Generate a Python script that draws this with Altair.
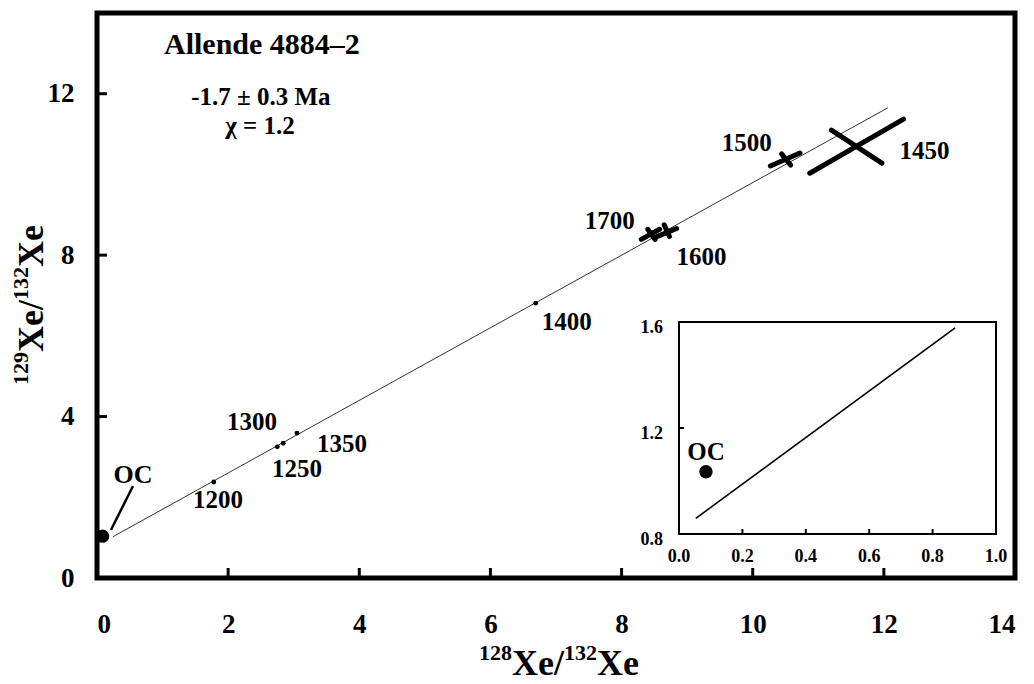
import altair as alt
import pandas as pd

# ---------------- data ----------------
# small single-step points (temperature steps) in the main panel
pt_step = ["1200", "1300", "1250", "1350", "1400"]
pt_x = [1.78, 2.75, 2.84, 3.05, 6.69]
pt_y = [2.38, 3.25, 3.34, 3.59, 6.81]

# ordinary chondrite (OC) trapped composition
oc_x = [0.085]
oc_y = [1.035]

# error crosses: two arms per step (x1,y1) -> (x2,y2)
cross_step = ["1700", "1700", "1600", "1600", "1500", "1500", "1450", "1450"]
cross_x1 = [8.30, 8.40, 8.54, 8.65, 10.27, 10.44, 10.87, 11.20]
cross_y1 = [8.39, 8.64, 8.46, 8.75, 10.21, 10.51, 10.03, 11.10]
cross_x2 = [8.58, 8.51, 8.84, 8.73, 10.72, 10.58, 12.30, 11.97]
cross_y2 = [8.64, 8.39, 8.66, 8.46, 10.53, 10.23, 11.37, 10.28]

# isochron line (main panel)
fit_x = [0.24, 12.06]
fit_y = [1.02, 11.65]

# step labels
lab_text = ["1200", "1300", "1250", "1350", "1400", "1700", "1600", "1500", "1450"]
lab_x = [1.845, 2.363, 3.049, 3.735, 7.165, 7.82, 9.22, 9.91, 12.62]
lab_y = [1.93, 3.87, 2.70, 3.32, 6.34, 8.85, 7.95, 10.78, 10.58]

# OC label and leader line
oc_lab_x = [0.549]
oc_lab_y = [2.55]
leader_x = [0.213, 0.549]
leader_y = [1.19, 2.28]

# annotation block
ann_text = ["Allende 4884\u20132", "-1.7 \u00b1 0.3 Ma", "\u03c7 = 1.2"]
ann_x = [2.515, 2.50, 2.485]
ann_y = [13.2, 11.92, 11.2]
ann_size = [30, 25, 25]

# main axes
x_ticks = [0, 2, 4, 6, 8, 10, 12, 14]
y_ticks = [0, 4, 8, 12]
x_inner_ticks = [2, 4, 6, 8, 10, 12]
y_inner_ticks = [4, 8, 12]

# inset
in_fit_x = [0.053, 0.871]
in_fit_y = [0.859, 1.578]
in_oc_x = [0.085]
in_oc_y = [1.035]
in_oc_lab_y = [1.109]
in_x_ticks = [0.0, 0.2, 0.4, 0.6, 0.8, 1.0]
in_x_labels = ["0.0", "0.2", "0.4", "0.6", "0.8", "1.0"]
in_y_ticks = [0.8, 1.2, 1.6]
in_y_labels = ["0.8", "1.2", "1.6"]
in_x_inner = [0.2, 0.4, 0.6, 0.8]
in_y_inner = [1.2]

# axis titles (superscript pieces)
xt_text = ["128", "Xe/", "132", "Xe"]
yt_text = ["129", "Xe/", "132", "Xe"]
is_sup = [True, False, True, False]

# ---------------- layout ----------------
W, H = 918, 565
PAD = {"left": 97, "top": 13, "right": 1034 - 97 - 918, "bottom": 684 - 13 - 565}
FONT = "Liberation Serif"
SUP, MAIN = 22, 36
IN_L, IN_R, IN_T, IN_B = 582, 899, 309, 521

xs = alt.Scale(domain=[0, 14], nice=False, zero=False)
ys = alt.Scale(domain=[0, 14], nice=False, zero=False)
xaxis = alt.Axis(values=x_ticks, grid=False, domain=False, ticks=False, tickSize=0,
                 labelFont=FONT, labelFontWeight="bold", labelFontSize=27,
                 labelPadding=33, title=None, labelColor="black", format="d")
yaxis = alt.Axis(values=y_ticks, grid=False, domain=False, ticks=False, tickSize=0,
                 labelFont=FONT, labelFontWeight="bold", labelFontSize=27,
                 labelPadding=23, title=None, labelColor="black", format="d")


def X(f):
    return alt.X(f, type="quantitative", scale=xs, axis=xaxis)


def Y(f):
    return alt.Y(f, type="quantitative", scale=ys, axis=yaxis)


fit_df = pd.DataFrame({"x": fit_x, "y": fit_y})
fit = alt.Chart(fit_df).mark_line(color="#333333", strokeWidth=1).encode(x=X("x"), y=Y("y"))

pts_df = pd.DataFrame({"x": pt_x, "y": pt_y, "step": pt_step})
pts = alt.Chart(pts_df).mark_point(filled=True, color="black", size=24, opacity=1).encode(x=X("x"), y=Y("y"))

oc_df = pd.DataFrame({"x": oc_x, "y": oc_y})
oc = alt.Chart(oc_df).mark_point(filled=True, color="black", size=175, opacity=1).encode(x=X("x"), y=Y("y"))

cr_df = pd.DataFrame({"step": cross_step, "x1": cross_x1, "y1": cross_y1, "x2": cross_x2, "y2": cross_y2})
crosses = alt.Chart(cr_df).mark_rule(color="black", strokeWidth=5, strokeCap="round").encode(
    x=X("x1"), y=Y("y1"), x2="x2", y2="y2")

lead_df = pd.DataFrame({"x": leader_x, "y": leader_y})
leader = alt.Chart(lead_df).mark_line(color="black", strokeWidth=2.5).encode(x=X("x"), y=Y("y"))

lab_df = pd.DataFrame({"t": lab_text, "x": lab_x, "y": lab_y})
labs = alt.Chart(lab_df).mark_text(font=FONT, fontWeight="bold", fontSize=25, color="black",
                                   align="center", baseline="middle").encode(x=X("x"), y=Y("y"), text="t")

ocl_df = pd.DataFrame({"t": ["OC"], "x": oc_lab_x, "y": oc_lab_y})
ocl = alt.Chart(ocl_df).mark_text(font=FONT, fontWeight="bold", fontSize=26, color="black",
                                  align="center", baseline="middle").encode(x=X("x"), y=Y("y"), text="t")

ann_df = pd.DataFrame({"t": ann_text, "x": ann_x, "y": ann_y, "s": ann_size})
ann = alt.Chart(ann_df).mark_text(font=FONT, fontWeight="bold", color="black",
                                  align="center", baseline="middle").encode(
    x=X("x"), y=Y("y"), text="t", size=alt.Size("s:Q", scale=None))

xt_df = pd.DataFrame({"v": x_inner_ticks})
xtick = alt.Chart(xt_df).mark_rule(color="black", strokeWidth=3).encode(
    x=X("v"), y=alt.value(H), y2=alt.value(H - 10))
yt_df = pd.DataFrame({"v": y_inner_ticks})
ytick = alt.Chart(yt_df).mark_rule(color="black", strokeWidth=3).encode(
    y=Y("v"), x=alt.value(0), x2=alt.value(10))

# axis title pieces (pixel positions, Times-metric widths)
adv = {"0": 500, "1": 500, "2": 500, "3": 500, "8": 500, "9": 500, "X": 722, "e": 444, "/": 278}


def piece_width(t, s):
    return sum(adv[c] for c in t) / 1000 * s


rows = []
# x title
sizes = [SUP if s else MAIN for s in is_sup]
tot = sum(piece_width(t, s) for t, s in zip(xt_text, sizes))
cx = 462 - tot / 2
for t, s, sup in zip(xt_text, sizes, is_sup):
    rows.append({"t": t, "px": cx, "py": 647 if sup else 662, "s": s, "a": 0})
    cx += piece_width(t, s)
# y title (rotated, reading upward)
tot = sum(piece_width(t, s) for t, s in zip(yt_text, sizes))
cy = 292 + tot / 2
for t, s, sup in zip(yt_text, sizes, is_sup):
    rows.append({"t": t, "px": -69 if sup else -54, "py": cy, "s": s, "a": 270})
    cy -= piece_width(t, s)
tt_df = pd.DataFrame(rows)
titles = alt.Chart(tt_df).mark_text(font=FONT, fontWeight="bold", color="black",
                                    align="left", baseline="alphabetic").encode(
    x=alt.X("px:Q", scale=None), y=alt.Y("py:Q", scale=None), text="t",
    size=alt.Size("s:Q", scale=None), angle=alt.Angle("a:Q", scale=None))

main = alt.layer(fit, leader, pts, crosses, oc, labs, ocl, ann, xtick, ytick, titles)

# ---------------- inset ----------------
ixs = alt.Scale(domain=[0, 1], range=[IN_L, IN_R], nice=False, zero=False)
iys = alt.Scale(domain=[0.8, 1.6], range=[IN_B, IN_T], nice=False, zero=False)


def IX(f):
    return alt.X(f, type="quantitative", scale=ixs, axis=None)


def IY(f):
    return alt.Y(f, type="quantitative", scale=iys, axis=None)


frame_df = pd.DataFrame({"x": [0.0], "x2": [1.0], "y": [0.8], "y2": [1.6]})
frame = alt.Chart(frame_df).mark_rect(fill="white", stroke="black", strokeWidth=2).encode(
    x=IX("x"), x2="x2", y=IY("y"), y2="y2")

ifit_df = pd.DataFrame({"x": in_fit_x, "y": in_fit_y})
ifit = alt.Chart(ifit_df).mark_line(color="black", strokeWidth=1.6).encode(x=IX("x"), y=IY("y"))

ioc_df = pd.DataFrame({"x": in_oc_x, "y": in_oc_y, "ly": in_oc_lab_y, "t": ["OC"]})
ioc = alt.Chart(ioc_df).mark_point(filled=True, color="black", size=180, opacity=1).encode(x=IX("x"), y=IY("y"))
iocl = alt.Chart(ioc_df).mark_text(font=FONT, fontWeight="bold", fontSize=25, color="black",
                                   align="center", baseline="middle").encode(x=IX("x"), y=IY("ly"), text="t")

ixl_df = pd.DataFrame({"v": in_x_ticks, "t": in_x_labels})
ixl = alt.Chart(ixl_df).mark_text(font=FONT, fontWeight="bold", fontSize=18, color="black",
                                  align="center", baseline="middle").encode(
    x=IX("v"), y=alt.value(544), text="t")
iyl_df = pd.DataFrame({"v": in_y_ticks, "t": in_y_labels})
iyl = alt.Chart(iyl_df).mark_text(font=FONT, fontWeight="bold", fontSize=18, color="black",
                                  align="right", baseline="middle", dy=6).encode(
    y=IY("v"), x=alt.value(566), text="t")

ixt_df = pd.DataFrame({"v": in_x_inner})
ixt = alt.Chart(ixt_df).mark_rule(color="black", strokeWidth=2).encode(
    x=IX("v"), y=alt.value(IN_B), y2=alt.value(IN_B - 5))
iyt_df = pd.DataFrame({"v": in_y_inner})
iyt = alt.Chart(iyt_df).mark_rule(color="black", strokeWidth=2).encode(
    y=IY("v"), x=alt.value(IN_L), x2=alt.value(IN_L + 5))

inset = alt.layer(frame, ifit, ioc, iocl, ixl, iyl, ixt, iyt)

chart = alt.layer(main, inset).resolve_scale(x="independent", y="independent").properties(
    width=W, height=H, padding=PAD, autosize=alt.AutoSizeParams(type="none"),
    background="white"
).configure_view(stroke="black", strokeWidth=5)

chart.save("out.html", embed_options={"renderer": "svg", "actions": False})
